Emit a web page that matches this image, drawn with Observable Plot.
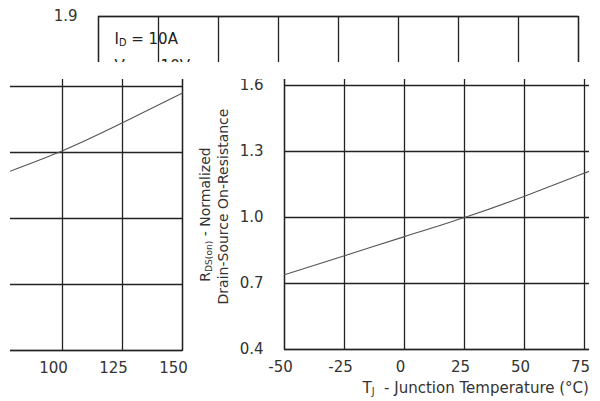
<!DOCTYPE html>
<html>
<head>
<meta charset="utf-8">
<script src="https://cdn.jsdelivr.net/npm/d3@7"></script>
<script src="https://cdn.jsdelivr.net/npm/@observablehq/plot@0.6"></script>
<style>
  html, body { margin: 0; padding: 0; background: #fff; }
  body { width: 600px; height: 401px; position: relative; overflow: hidden; }
  .win { position: absolute; overflow: hidden; background: transparent; }
  .win svg { position: absolute; max-width: none !important; }
</style>
</head>
<body>
<div id="left" class="win"></div>
<div id="main" class="win"></div>
<div id="strip" class="win"></div>
<script>
// ---- data ----
const temps = [-50, -25, 0, 25, 50, 75, 100, 125, 150];
const rdsNorm = [0.74, 0.826, 0.913, 1.0, 1.097, 1.202, 1.308, 1.435, 1.57];
const xTicks = [-50, -25, 0, 25, 50, 75, 100, 125, 150];
const xTickLabels = ["-50", "-25", "0", "25", "50", "75", "100", "125", "150"];
const yTicks = [0.4, 0.7, 1.0, 1.3, 1.6, 1.9];
const yTickLabels = ["0.4", "0.7", "1.0", "1.3", "1.6", "1.9"];
const xTitle = "T_{J}  - Junction Temperature (°C)";
const yTitle1 = "R_{DS(on)} - Normalized";
const yTitle2 = "Drain-Source On-Resistance";
const note1 = "I_{D} = 10A";
const note2 = "V_{GS} = 10V";

const FONT = "'DejaVu Sans', Verdana, sans-serif";
const INK = "#222";
const W = 590, H = 401;

function subscriptify(svg) {
  d3.select(svg).selectAll("text").each(function () {
    const s = this.textContent;
    if (!s.includes("_{")) return;
    const parts = s.split(/(_\{[^}]*\})/);
    this.textContent = "";
    this.setAttribute("style", (this.getAttribute("style") || "") + ";white-space:pre");
    let shifted = false;
    for (const p of parts) {
      if (!p) continue;
      const m = p.match(/^_\{(.*)\}$/);
      const ts = d3.select(this).append("tspan");
      if (m) {
        ts.text(m[1]).attr("font-size", "0.65em").attr("dy", "2px");
        shifted = true;
      } else {
        ts.text(p);
        if (shifted) { ts.attr("dy", "-2px"); shifted = false; }
      }
    }
  });
}

function makeChart(opt) {
  const data = temps.map((t, i) => ({t, r: rdsNorm[i]}));
  const marks = [
    Plot.gridX(xTicks, {stroke: INK, strokeOpacity: 1, strokeWidth: 1.3}),
    Plot.gridY(yTicks, {stroke: INK, strokeOpacity: 1, strokeWidth: 1.3}),
    Plot.frame({stroke: INK, strokeWidth: 1.3}),
    Plot.line(data, {x: "t", y: "r", curve: "natural", stroke: "#555", strokeWidth: 1.1})
  ];
  if (opt.xAxis) marks.push(
    Plot.axisX(xTicks, {tickSize: 0, tickPadding: 12, label: null, fill: "#333", fontSize: 15,
      dx: opt.xLabelDx, tickFormat: d => xTickLabels[xTicks.indexOf(d)]}));
  else marks.push(Plot.axisX([], {label: null}));
  if (opt.yAxis) marks.push(
    Plot.axisY(yTicks, {tickSize: 0, tickPadding: 21, label: null, fill: "#333", fontSize: 15,
      tickFormat: d => yTickLabels[yTicks.indexOf(d)]}));
  else marks.push(Plot.axisY([], {label: null}));
  if (opt.titles) marks.push(
    Plot.text([xTitle], {frameAnchor: "bottom-left", textAnchor: "start", lineAnchor: "middle",
      dx: 78, dy: 39, text: d => d, fontSize: 15, fill: "#333"}),
    Plot.text([yTitle1], {frameAnchor: "left", textAnchor: "middle", lineAnchor: "middle", rotate: -90,
      dx: -79, dy: 30, text: d => d, fontSize: 14, fill: "#333"}),
    Plot.text([yTitle2], {frameAnchor: "left", textAnchor: "middle", lineAnchor: "middle", rotate: -90,
      dx: -61, dy: 22, text: d => d, fontSize: 14, fill: "#333"}));
  if (opt.notes) marks.push(
    Plot.text([note1], {frameAnchor: "top-left", textAnchor: "start", lineAnchor: "middle",
      dx: 16, dy: 23, text: d => d, fontSize: 15, fill: "#222"}),
    Plot.text([note2], {frameAnchor: "top-left", textAnchor: "start", lineAnchor: "middle",
      dx: 16, dy: 50, text: d => d, fontSize: 15, fill: "#222"}));

  const svg = Plot.plot({
    width: W,
    height: H,
    marginLeft: 100,
    marginRight: 10,
    marginTop: 19,
    marginBottom: 52,
    style: {fontFamily: FONT, fontSize: "15px", color: "#333", background: "transparent", overflow: "visible"},
    x: {domain: [-50, 150], label: null},
    y: {domain: [0.4, 1.9], label: null},
    marks
  });
  subscriptify(svg);
  svg.style.width = W + "px";
  svg.style.height = H + "px";
  svg.style.maxWidth = "none";
  return svg;
}

function place(id, win, svgLeft, svgTop, opt) {
  const div = document.getElementById(id);
  Object.assign(div.style, {left: win[0] + "px", top: win[1] + "px", width: win[2] + "px", height: win[3] + "px"});
  const svg = makeChart(opt);
  svg.style.left = (svgLeft - win[0]) + "px";
  svg.style.top = (svgTop - win[1]) + "px";
  div.appendChild(svg);
}

// windows: [left, top, width, height]; chart svg origin
place("main", [186, 79, 403, 322], 184, 0, {xAxis: true, yAxis: true, titles: true, xLabelDx: -4});
place("strip", [0, 0, 600, 62], -2, -3, {yAxis: true, notes: true});
place("left", [10, 79, 180, 322], -398.3, 0.5, {xAxis: true, xLabelDx: -9});
</script>
</body>
</html>
